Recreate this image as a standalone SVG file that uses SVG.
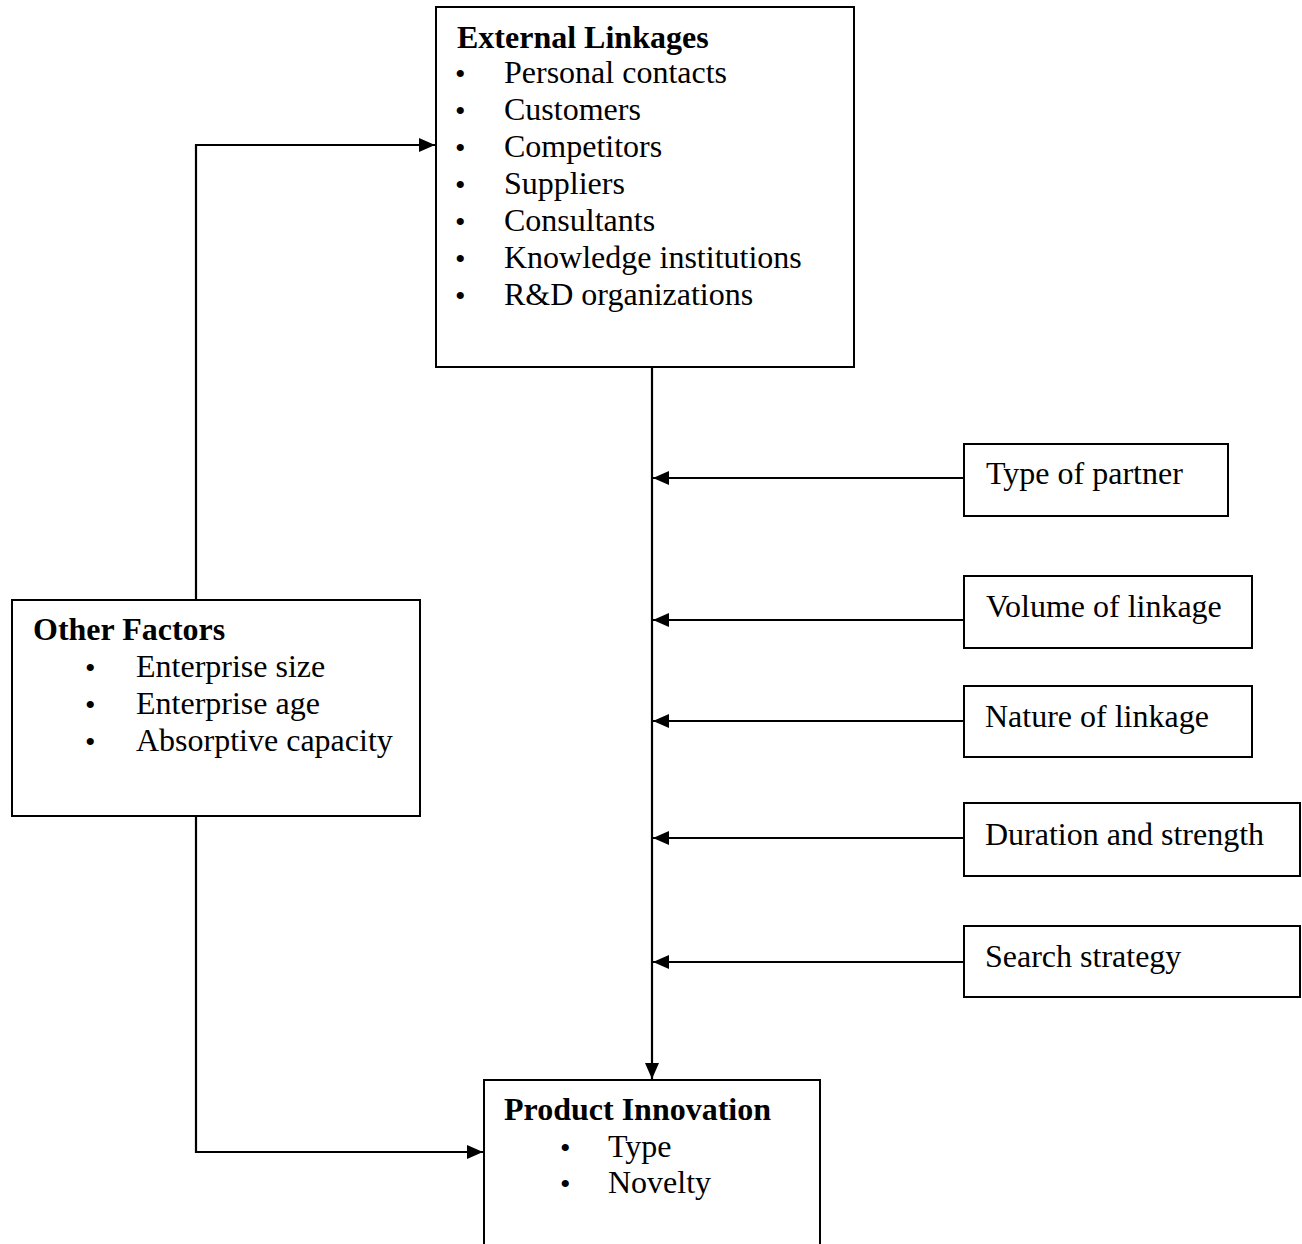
<svg xmlns="http://www.w3.org/2000/svg" width="1302" height="1244" viewBox="0 0 1302 1244">
<style>
.box{fill:#fff;stroke:#000;stroke-width:2}
.t{font-family:"Liberation Serif","Times New Roman",serif;font-size:32px;fill:#000}
.b{font-weight:bold}
.bul{font-family:"Liberation Serif","Times New Roman",serif;font-size:30px;fill:#000}
.ln{fill:none;stroke:#000;stroke-width:2.2}
</style>
<defs>
<marker id="ah" viewBox="0 0 16 14" refX="16" refY="7" markerWidth="16" markerHeight="14" markerUnits="userSpaceOnUse" orient="auto">
<path d="M0,0 L16,7 L0,14 Z" fill="#000"/>
</marker>
</defs>
<rect width="1302" height="1244" fill="#fff"/>
<g id="connectors">
<path class="ln" d="M196,600 V145 H435" marker-end="url(#ah)"/>
<path class="ln" d="M196,816 V1152 H483" marker-end="url(#ah)"/>
<path class="ln" d="M652,367 V1079" marker-end="url(#ah)"/>
<path class="ln" d="M964,478 H653" marker-end="url(#ah)"/>
<path class="ln" d="M964,620 H653" marker-end="url(#ah)"/>
<path class="ln" d="M964,721 H653" marker-end="url(#ah)"/>
<path class="ln" d="M964,838 H653" marker-end="url(#ah)"/>
<path class="ln" d="M964,962 H653" marker-end="url(#ah)"/>
</g>
<g id="external-linkages">
<rect class="box" x="436" y="7" width="418" height="360"/>
<text class="t b" x="457" y="48">External Linkages</text>
<g class="bul"><text x="455" y="84">•</text><text x="455" y="121">•</text><text x="455" y="158">•</text><text x="455" y="195">•</text><text x="455" y="232">•</text><text x="455" y="269">•</text><text x="455" y="306">•</text></g>
<text class="t" x="504" y="83">Personal contacts</text>
<text class="t" x="504" y="120">Customers</text>
<text class="t" x="504" y="157">Competitors</text>
<text class="t" x="504" y="194">Suppliers</text>
<text class="t" x="504" y="231">Consultants</text>
<text class="t" x="504" y="268">Knowledge institutions</text>
<text class="t" x="504" y="305">R&amp;D organizations</text>
</g>
<g id="other-factors">
<rect class="box" x="12" y="600" width="408" height="216"/>
<text class="t b" x="33" y="640">Other Factors</text>
<g class="bul"><text x="85" y="678">•</text><text x="85" y="715">•</text><text x="85" y="752">•</text></g>
<text class="t" x="136" y="677">Enterprise size</text>
<text class="t" x="136" y="714">Enterprise age</text>
<text class="t" x="136" y="751">Absorptive capacity</text>
</g>
<g id="product-innovation">
<path class="box" d="M484,1244 V1080 H820 V1244"/>
<text class="t b" x="504" y="1120">Product Innovation</text>
<g class="bul"><text x="560" y="1158">•</text><text x="560" y="1194">•</text></g>
<text class="t" x="608" y="1157">Type</text>
<text class="t" x="608" y="1193">Novelty</text>
</g>
<g id="type-of-partner">
<rect class="box" x="964" y="444" width="264" height="72"/>
<text class="t" x="986" y="484">Type of partner</text>
</g>
<g id="volume-of-linkage">
<rect class="box" x="964" y="576" width="288" height="72"/>
<text class="t" x="986" y="617">Volume of linkage</text>
</g>
<g id="nature-of-linkage">
<rect class="box" x="964" y="686" width="288" height="71"/>
<text class="t" x="985" y="727">Nature of linkage</text>
</g>
<g id="duration-and-strength">
<rect class="box" x="964" y="803" width="336" height="73"/>
<text class="t" x="985" y="845">Duration and strength</text>
</g>
<g id="search-strategy">
<rect class="box" x="964" y="926" width="336" height="71"/>
<text class="t" x="985" y="967">Search strategy</text>
</g>
</svg>
